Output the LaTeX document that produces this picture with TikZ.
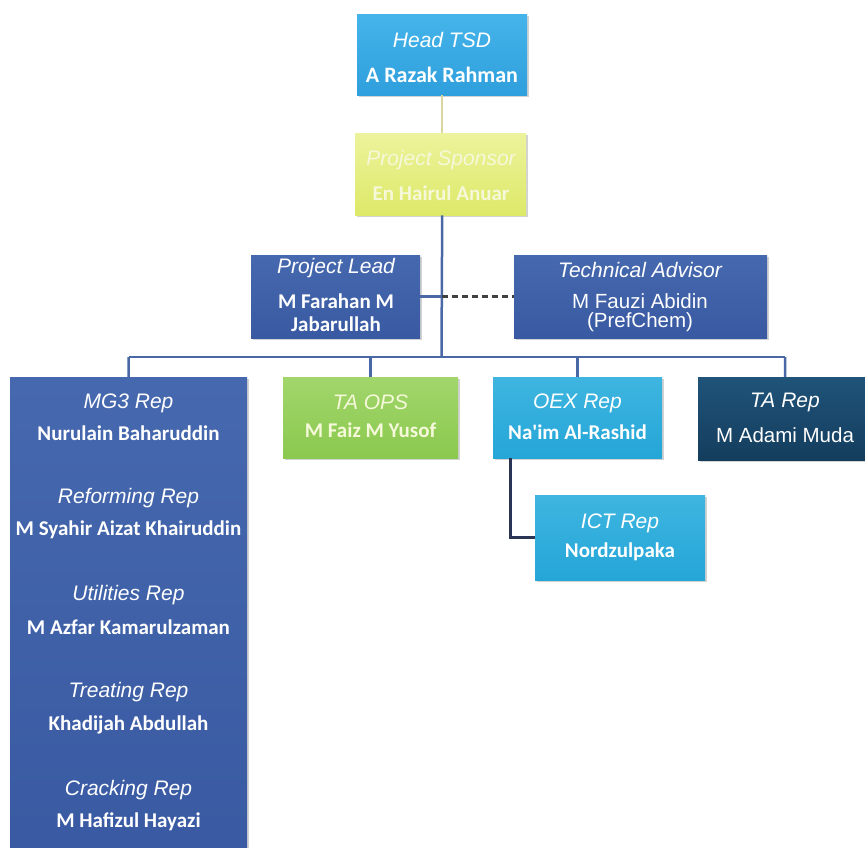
\documentclass[tikz,border=0pt]{standalone}
\usepackage{fontspec}
\setmainfont{Liberation Sans}
\newfontfamily\namefont{Carlito}
\usetikzlibrary{shadows}
\definecolor{headblue}{HTML}{2F9FDD}
\definecolor{headblueT}{HTML}{45B4EA}
\definecolor{sponsory}{HTML}{DDE968}
\definecolor{sponsoryT}{HTML}{ECF39C}
\definecolor{steel}{HTML}{395AA2}
\definecolor{steelT}{HTML}{4668AE}
\definecolor{lgreen}{HTML}{8AC94E}
\definecolor{lgreenT}{HTML}{A2D66C}
\definecolor{cyanb}{HTML}{24A6D7}
\definecolor{cyanbT}{HTML}{3FB5E0}
\definecolor{navy}{HTML}{143D5D}
\definecolor{navyT}{HTML}{1F5379}
\definecolor{busc}{HTML}{4A68A6}
\definecolor{khaki}{HTML}{D8D59E}
\definecolor{ictline}{HTML}{2A3555}
\definecolor{paletext}{HTML}{F6F8DA}
\tikzset{
  box/.style={rectangle, draw=none, anchor=north west, inner sep=0pt,
    drop shadow={shadow xshift=1.5pt, shadow yshift=-2pt, opacity=0.35}},
  ttl/.style={text=white, font=\fontsize{21}{24}\selectfont\itshape, inner sep=0pt},
  nm/.style={text=white, font=\namefont\fontsize{21}{24}\selectfont\bfseries, inner sep=0pt},
  nma/.style={text=white, font=\fontsize{20.5}{24}\selectfont, inner sep=0pt},
  bus/.style={draw=busc, line width=2.5pt},
}
\begin{document}
\begin{tikzpicture}[x=1pt,y=-1pt]
\useasboundingbox (0,0) rectangle (865,847);
\fill[white] (0,0) rectangle (865,847);

% boxes
\node[box, top color=headblueT, bottom color=headblue, minimum width=170pt, minimum height=81pt] (head) at (357,14) {};
\node[box, top color=sponsoryT, bottom color=sponsory, minimum width=171pt, minimum height=82pt] (sponsor) at (355,133) {};
\node[box, top color=steelT, bottom color=steel, minimum width=169pt, minimum height=83pt] (lead) at (251,255) {};
\node[box, top color=steelT, bottom color=steel, minimum width=253pt, minimum height=83pt] (adv) at (514,255) {};
\node[box, top color=steelT, bottom color=steel, minimum width=237pt, minimum height=490pt] (mg3) at (10,377) {};
\node[box, top color=lgreenT, bottom color=lgreen, minimum width=175pt, minimum height=81pt] (taops) at (283,377) {};
\node[box, top color=cyanbT, bottom color=cyanb, minimum width=169pt, minimum height=81pt] (oex) at (493,377) {};
\node[box, top color=navyT, bottom color=navy, minimum width=174pt, minimum height=83pt] (tarep) at (698,377) {};
\node[box, top color=cyanbT, bottom color=cyanb, minimum width=170pt, minimum height=85pt] (ict) at (535,495) {};

% connectors
\coordinate (busL) at (128.5,357);
\coordinate (busR) at (785,357);
\coordinate (busM) at (441.5,357);
\coordinate (ictx) at (510,458);
\draw[draw=khaki, line width=2pt] (head.south) -- (sponsor.north -| head.south);
\draw[bus] (sponsor.south -| head.south) -- (busM);
\draw[bus] (busL) -- (busR);
\draw[bus] (busL) -- (mg3.north);
\draw[bus] (taops.north |- busM) -- (taops.north);
\draw[bus] (oex.north |- busM) -- (oex.north);
\draw[bus] (busR) -- (tarep.north);
\draw[bus] (lead.east) -- (lead.east -| busM);
\draw[draw=black!75, line width=2.5pt, dash pattern=on 6pt off 4pt] (lead.east -| busM) -- (adv.west);
\draw[draw=ictline, line width=3pt] (ictx) |- (ict.west);

% texts
\node[ttl] (t1) at (442,40) {Head TSD};
\node[nm, font=\namefont\fontsize{22}{24}\selectfont\bfseries] (n1) at (442,75) {A Razak Rahman};
\node[ttl, text=paletext] (t2) at (441,160) {Project Sponsor};
\node[nm, text=paletext] (n2) at (441,193) {En Hairul Anuar};
\node[ttl] (t3) at (336,268) {Project Lead};
\node[nm] (n3a) at (336,301) {M Farahan M};
\node[nm] (n3b) at (336,324) {Jabarullah};
\node[ttl] (t4) at (640,270) {Technical Advisor};
\node[nma] (n4a) at (640,301) {M Fauzi Abidin};
\node[nma] (n4b) at (640,322) {(PrefChem)};
\node[ttl] (t5) at (128.5,403) {MG3 Rep};
\node[nm] (n5) at (128.5,433) {Nurulain Baharuddin};
\node[ttl] (t6) at (128.5,498) {Reforming Rep};
\node[nm] (n6) at (128.5,530) {M Syahir Aizat Khairuddin};
\node[ttl] (t7) at (128.5,595) {Utilities Rep};
\node[nm] (n7) at (128.5,627) {M Azfar Kamarulzaman};
\node[ttl] (t8) at (128.5,692) {Treating Rep};
\node[nm] (n8) at (128.5,725) {Khadijah Abdullah};
\node[ttl] (t9) at (128.5,790) {Cracking Rep};
\node[nm] (n9) at (128.5,822) {M Hafizul Hayazi};
\node[ttl, text=paletext] (t10) at (370.5,402) {TA OPS};
\node[nm, text=paletext] (n10) at (370.5,430) {M Faiz M Yusof};
\node[ttl] (t11) at (577.5,403) {OEX Rep};
\node[nm] (n11) at (577.5,432) {Na'im Al-Rashid};
\node[ttl] (t12) at (785,402) {TA Rep};
\node[nma] (n12) at (785,435) {M Adami Muda};
\node[ttl] (t13) at (620,523) {ICT Rep};
\node[nm] (n13) at (620,552) {Nordzulpaka};
\end{tikzpicture}
\end{document}
